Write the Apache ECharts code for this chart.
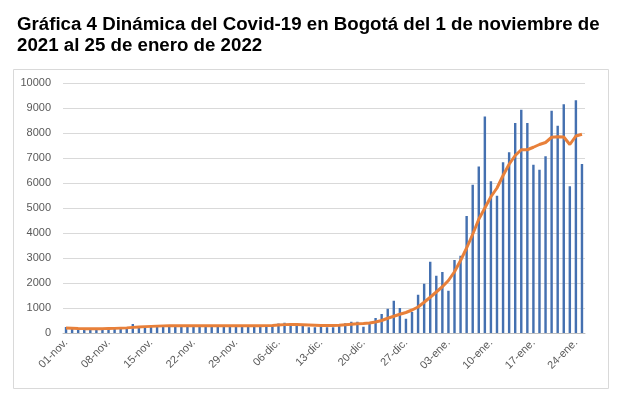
<!DOCTYPE html>
<html>
<head>
<meta charset="utf-8">
<script src="https://cdn.jsdelivr.net/npm/echarts@6/dist/echarts.min.js"></script>
<style>
  html, body { margin: 0; padding: 0; background: #fff; }
  #chart { width: 624px; height: 399px; }
</style>
</head>
<body>
<div id="chart"></div>
<script>
// Fechas: 01-nov-2021 al 25-ene-2022
const meses = [['nov.', 30], ['dic.', 31], ['ene.', 25]];
const categorias = [];
meses.forEach(function (m) {
    for (let d = 1; d <= m[1]; d++) {
        categorias.push((d < 10 ? '0' + d : '' + d) + '-' + m[0]);
    }
});

// Casos diarios (barras)
const casosDiarios = [
    240, 170, 150, 160, 170, 180, 150, 190, 200, 210,
    190, 360, 240, 250, 270, 280, 270, 260, 280, 270,
    260, 280, 270, 260, 280, 270, 260, 270, 270, 260,
    270, 260, 280, 270, 300, 380, 410, 400, 280, 280,
    230, 230, 280, 230, 230, 350, 390, 450, 450, 250,
    390, 600, 760, 970, 1290, 1000, 570, 840, 1530, 1970,
    2850, 2290, 2440, 1690, 2920, 3090, 4680, 5930, 6660, 8660,
    6070, 5490, 6830, 7230, 8400, 8930, 8400, 6730, 6530, 7070,
    8890, 8290, 9150, 5870, 9310, 6760
];

// Promedio móvil (línea naranja)
const promedioMovil = [
    200, 190, 180, 175, 175, 175, 175, 180, 185, 195,
    205, 225, 240, 255, 265, 275, 285, 290, 290, 290,
    290, 290, 290, 290, 290, 290, 290, 290, 290, 290,
    290, 290, 290, 295, 300, 320, 335, 340, 340, 330,
    320, 310, 300, 300, 300, 310, 330, 350, 370, 380,
    400, 440, 500, 590, 670, 750, 820, 920, 1040, 1230,
    1430, 1640, 1850, 2100, 2450, 2900, 3400, 3950, 4550, 5000,
    5450, 5800, 6300, 6750, 7100, 7330, 7330, 7430, 7540, 7620,
    7830, 7850, 7840, 7540, 7880, 7950
];

const titulo = 'Gráfica 4 Dinámica del Covid-19 en Bogotá del 1 de noviembre de\n2021 al 25 de enero de 2022';

const chart = echarts.init(document.getElementById('chart'));

chart.setOption({
    animation: false,
    title: {
        text: titulo,
        left: 12,
        top: 9,
        textStyle: {
            fontFamily: 'Liberation Sans, Arial, sans-serif',
            fontSize: 18.7,
            fontWeight: 'bold',
            color: '#000',
            lineHeight: 21
        }
    },
    graphic: [{
        type: 'rect',
        shape: { x: 13.5, y: 69.5, width: 595, height: 319 },
        style: { fill: 'none', stroke: '#d9d9d9', lineWidth: 1 },
        silent: true
    }],
    grid: { left: 63, right: 39, top: 83, bottom: 66 },
    xAxis: {
        type: 'category',
        data: categorias,
        boundaryGap: true,
        axisLine: { lineStyle: { color: '#bfbfbf' } },
        axisTick: { show: false },
        axisLabel: {
            interval: 6,
            rotate: 45,
            color: '#595959',
            fontFamily: 'Liberation Sans, Arial, sans-serif',
            fontSize: 11,
            margin: 8
        }
    },
    yAxis: {
        type: 'value',
        min: 0,
        max: 10000,
        interval: 1000,
        axisLine: { show: false },
        axisTick: { show: false },
        splitLine: { lineStyle: { color: '#d9d9d9' } },
        axisLabel: {
            color: '#595959',
            fontFamily: 'Liberation Sans, Arial, sans-serif',
            fontSize: 11,
            margin: 12,
            formatter: function (v) { return String(v); }
        }
    },
    series: [{
        name: 'Casos',
        type: 'bar',
        data: casosDiarios,
        barWidth: '40%',
        itemStyle: { color: '#4470b0' }
    }, {
        name: 'Promedio móvil',
        type: 'line',
        data: promedioMovil,
        symbol: 'none',
        smooth: false,
        lineStyle: { color: '#e8803a', width: 3 }
    }]
});
</script>
</body>
</html>
